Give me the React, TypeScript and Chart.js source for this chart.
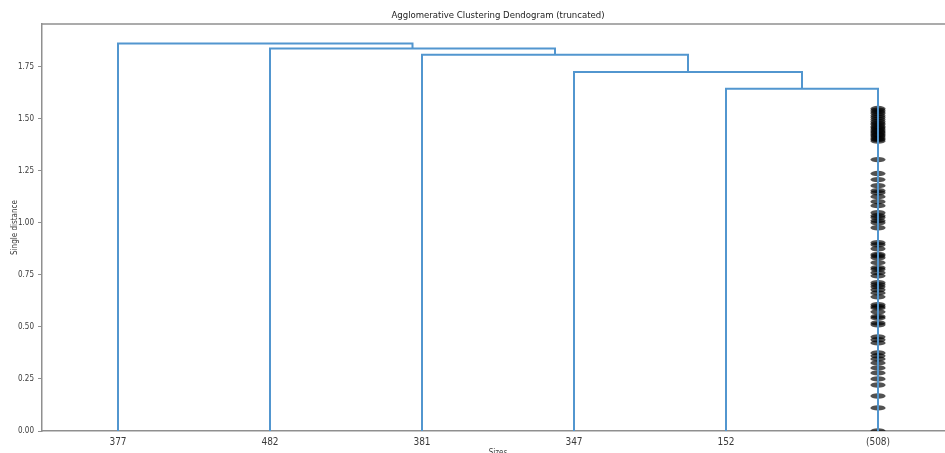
import React, { useEffect, useRef } from "react";
import { Chart, registerables } from "chart.js";

Chart.register(...registerables);

// Leaves of the truncated tree, left to right
const leafLabels = ["377", "482", "381", "347", "152", "(508)"];
// Merge heights from the root downwards: leaf i joins the cluster on its right
const mergeHeights = [1.861, 1.837, 1.806, 1.723, 1.643];
// Heights of the merges hidden inside the contracted (508) cluster
const contractedHeights = [
  1.548, 1.54, 1.532, 1.524, 1.514, 1.505, 1.496, 1.486, 1.478, 1.471, 1.462,
  1.456, 1.449, 1.442, 1.436, 1.43, 1.423, 1.418, 1.411, 1.404, 1.399, 1.392,
  1.303, 1.236, 1.207, 1.178, 1.154, 1.144, 1.125, 1.101, 1.082, 1.048, 1.034,
  1.025, 1.01, 1.0, 0.976, 0.904, 0.894, 0.875, 0.848, 0.841, 0.832, 0.808,
  0.784, 0.776, 0.76, 0.745, 0.712, 0.702, 0.692, 0.678, 0.663, 0.644, 0.606,
  0.598, 0.591, 0.572, 0.55, 0.543, 0.519, 0.51, 0.452, 0.438, 0.423, 0.375,
  0.361, 0.346, 0.327, 0.303, 0.279, 0.25, 0.221, 0.168, 0.111, 0.0,
];
const yTickValues = [0, 0.25, 0.5, 0.75, 1.0, 1.25, 1.5, 1.75];
const chartTitle = "Agglomerative Clustering Dendogram (truncated)";

const LINK_COLOR = "#5296cf";
const AXIS_COLOR = "#8f8f8f";
const TEXT_COLOR = "#3a3a3a";
const FONT = "'Liberation Sans Narrow', 'DejaVu Sans Condensed', 'Liberation Sans', sans-serif";

const leafX = (i: number) => 10 * i + 5;
const xMax = 10 * leafLabels.length;
const yMax = Math.max(...mergeHeights) * 1.05;

// Each merge is drawn as a bracket: up from the left child, across, down to the right child
function buildLinks() {
  const links: { x: number; y: number }[][] = [];
  let rightX = leafX(leafLabels.length - 1);
  let rightH = 0;
  for (let i = mergeHeights.length - 1; i >= 0; i--) {
    const h = mergeHeights[i];
    const lx = leafX(i);
    links.push([
      { x: lx, y: 0 },
      { x: lx, y: h },
      { x: rightX, y: h },
      { x: rightX, y: rightH },
    ]);
    rightX = (lx + rightX) / 2;
    rightH = h;
  }
  return links;
}

// Semi-transparent ellipses marking the contracted merges, under the links
const contractionPlugin = {
  id: "contractionMarks",
  beforeDatasetsDraw(chart: any) {
    const { ctx, chartArea, scales } = chart;
    const x = scales.x;
    const y = scales.y;
    const cxVal = leafX(leafLabels.length - 1);
    const cx = x.getPixelForValue(cxVal);
    const rx = (x.getPixelForValue(cxVal + 0.5) - x.getPixelForValue(cxVal - 0.5)) / 2;
    const ry = Math.abs(y.getPixelForValue(0) - y.getPixelForValue(yMax / 75)) / 2;
    ctx.save();
    ctx.beginPath();
    ctx.rect(chartArea.left, chartArea.top, chartArea.right - chartArea.left, chartArea.bottom - chartArea.top);
    ctx.clip();
    ctx.fillStyle = "rgba(0,0,0,0.68)";
    for (const h of contractedHeights) {
      ctx.beginPath();
      ctx.ellipse(cx, y.getPixelForValue(h), rx, ry, 0, 0, Math.PI * 2);
      ctx.fill();
    }
    ctx.restore();
  },
};

// Top spine and the title centred over the plot area
const framePlugin = {
  id: "frame",
  afterDraw(chart: any) {
    const { ctx, chartArea } = chart;
    ctx.save();
    ctx.strokeStyle = AXIS_COLOR;
    ctx.lineWidth = 1.5;
    ctx.beginPath();
    ctx.moveTo(chartArea.left - 0.75, chartArea.top);
    ctx.lineTo(chartArea.right, chartArea.top);
    ctx.stroke();
    ctx.fillStyle = "#222";
    ctx.font = `9.5px ${FONT}`;
    ctx.textAlign = "center";
    ctx.textBaseline = "middle";
    ctx.fillText(chartTitle, (chartArea.left + chartArea.right) / 2, chartArea.top - 8);
    ctx.restore();
  },
};

export default function App() {
  const canvasRef = useRef<HTMLCanvasElement | null>(null);

  useEffect(() => {
    const canvas = canvasRef.current;
    if (!canvas) return;
    const links = buildLinks();
    const chart = new Chart(canvas, {
      type: "line",
      data: {
        datasets: links.map((pts) => ({
          data: pts,
          borderColor: LINK_COLOR,
          borderWidth: 2,
          pointRadius: 0,
          fill: false,
          tension: 0,
        })),
      },
      options: {
        responsive: false,
        animation: false,
        events: [],
        layout: { padding: { left: 0, right: 26, top: 24, bottom: 0 } },
        plugins: {
          legend: { display: false },
          tooltip: { enabled: false },
          title: { display: false },
        },
        scales: {
          x: {
            type: "linear",
            min: 0,
            max: xMax,
            afterBuildTicks: (scale: any) => {
              scale.ticks = leafLabels.map((_, i) => ({ value: leafX(i) }));
            },
            afterFit: (scale: any) => {
              scale.height = 39;
            },
            ticks: {
              autoSkip: false,
              maxRotation: 0,
              padding: 5,
              color: TEXT_COLOR,
              font: { family: FONT, size: 10 },
              callback: (v: any) => leafLabels[Math.round((Number(v) - 5) / 10)] ?? "",
            },
            grid: { display: false, drawTicks: false },
            border: { display: true, color: AXIS_COLOR, width: 1.5 },
            title: {
              display: true,
              text: "Sizes",
              color: TEXT_COLOR,
              font: { family: FONT, size: 8 },
              padding: { top: 0, bottom: 12 },
            },
          },
          y: {
            type: "linear",
            min: 0,
            max: yMax,
            afterBuildTicks: (scale: any) => {
              scale.ticks = yTickValues.map((v) => ({ value: v }));
            },
            afterFit: (scale: any) => {
              scale.width = 42;
            },
            ticks: {
              padding: 4,
              color: TEXT_COLOR,
              font: { family: FONT, size: 8 },
              callback: (v: any) => Number(v).toFixed(2),
            },
            grid: {
              display: true,
              drawOnChartArea: false,
              drawTicks: true,
              tickLength: 4,
              color: AXIS_COLOR,
              lineWidth: 1,
            },
            border: { display: true, color: AXIS_COLOR, width: 1.5 },
            title: {
              display: true,
              text: "Single distance",
              color: TEXT_COLOR,
              font: { family: FONT, size: 8 },
              padding: { top: 10, bottom: 0 },
            },
          },
        },
      },
      plugins: [contractionPlugin, framePlugin],
    });
    return () => chart.destroy();
  }, []);

  return (
    <div
      style={{
        position: "absolute",
        left: 0,
        top: 0,
        width: 945,
        height: 453,
        overflow: "hidden",
        background: "#fff",
      }}
    >
      <canvas ref={canvasRef} width={980} height={470} style={{ display: "block" }} />
    </div>
  );
}
